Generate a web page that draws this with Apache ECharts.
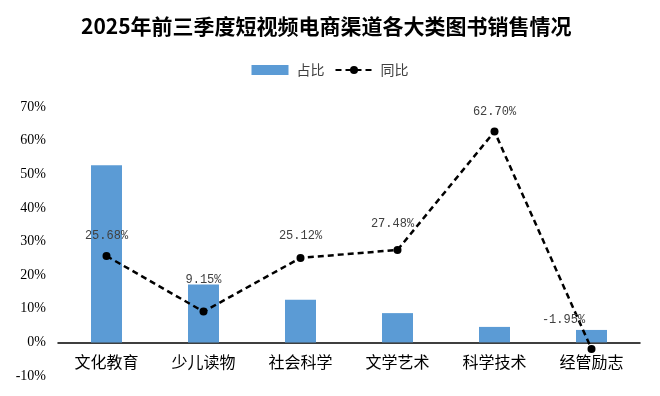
<!DOCTYPE html>
<html>
<head>
<meta charset="utf-8">
<script src="https://cdn.jsdelivr.net/npm/echarts@6/dist/echarts.min.js"></script>
<style>html,body{margin:0;padding:0;background:#fff;}#c{width:660px;height:396px;}</style>
</head>
<body>
<div id="c"></div>
<script>
const categories = ['文化教育', '少儿读物', '社会科学', '文学艺术', '科学技术', '经管励志'];
const shareValues = [52.7, 17.2, 12.7, 8.7, 4.6, 3.7];
const yoyValues = [25.68, 9.15, 25.12, 27.48, 62.70, -1.95];
const yTicks = [-10, 0, 10, 20, 30, 40, 50, 60, 70];

const labelOffsets = [[0, 0], [0, -12], [0, -2], [-5, -6], [0, 0], [-28, -9]];

const chart = echarts.init(document.getElementById('c'), null, {renderer: 'canvas'});
chart.setOption({
  animation: false,
  backgroundColor: '#fff',
  title: {
    text: '2025年前三季度短视频电商渠道各大类图书销售情况',
    left: 76,
    top: 11,
    textStyle: {fontFamily: 'Noto Sans CJK SC', fontSize: 21, fontWeight: 'bold', color: '#000'}
  },
  legend: {
    top: 58,
    left: 'center',
    itemGap: 10,
    itemWidth: 37,
    itemHeight: 10,
    textStyle: {fontFamily: 'Noto Sans CJK SC', fontSize: 14, color: '#404040', padding: [0, 0, 0, 3]},
    data: [{name: '占比', icon: 'rect'}, {name: '同比'}]
  },
  grid: {left: 58, right: 20, top: 107, bottom: 20, containLabel: false, outerBoundsMode: 'none'},
  xAxis: {
    type: 'category',
    data: categories,
    axisLine: {onZero: true, lineStyle: {color: '#000', width: 1.5}},
    axisTick: {show: false},
    axisLabel: {fontFamily: 'Noto Sans CJK SC', fontSize: 16, color: '#000', margin: -22}
  },
  yAxis: {
    type: 'value',
    min: yTicks[0],
    max: yTicks[yTicks.length - 1],
    interval: 10,
    splitLine: {show: false},
    axisLine: {show: false},
    axisTick: {show: false},
    axisLabel: {
      fontFamily: 'Liberation Serif', fontSize: 14, color: '#000', margin: 12,
      formatter: v => v + '%'
    }
  },
  series: [
    {
      name: '占比',
      type: 'bar',
      data: shareValues,
      barWidth: 31,
      itemStyle: {color: '#5b9bd5'}
    },
    {
      name: '同比',
      type: 'line',
      data: yoyValues.map((v, i) => ({
        value: v,
        label: {offset: labelOffsets[i]}
      })),
      symbol: 'circle',
      symbolSize: 8,
      lineStyle: {color: '#000', width: 2.5, type: [6, 4]},
      itemStyle: {color: '#000'},
      label: {
        show: true,
        position: 'top',
        distance: 10,
        fontFamily: 'Liberation Mono',
        fontSize: 12,
        color: '#404040',
        formatter: p => p.value.toFixed(2) + '%'
      }
    }
  ]
});
</script>
</body>
</html>
